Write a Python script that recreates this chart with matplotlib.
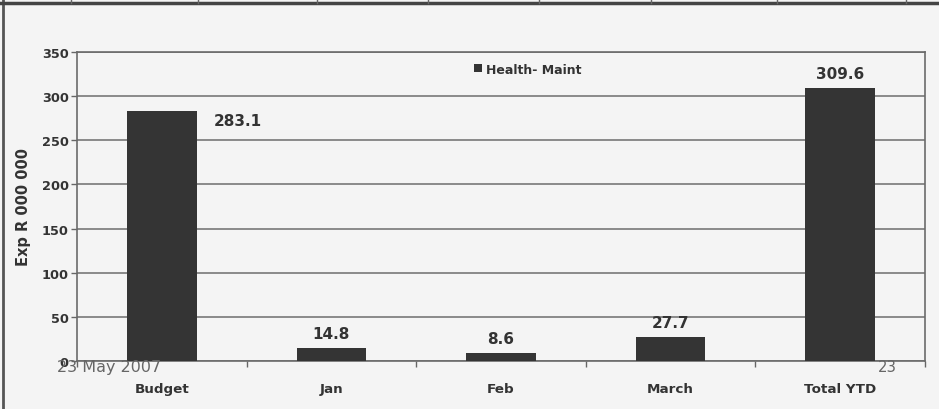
import numpy as np
import matplotlib
matplotlib.use("Agg")
import matplotlib.pyplot as plt
from matplotlib.lines import Line2D

# Chart data
categories = ["Budget", "Jan", "Feb", "March", "Total YTD"]
health_maint = [283.1, 14.8, 8.6, 27.7, 309.6]
series_name = "Health- Maint"
y_ticks = [0, 50, 100, 150, 200, 250, 300, 350]
footer_date = "23 May 2007"
footer_page = "23"

W, H = 939, 410
fig = plt.figure(figsize=(W / 100, H / 100), dpi=100, facecolor="#f4f4f4")
ax = fig.add_axes([77 / W, 1 - 362 / H, (925 - 77) / W, (362 - 53) / H])
ax.set_facecolor("#f4f4f4")

x = np.arange(len(categories))
bars = ax.bar(x, health_maint, width=0.41, color="#343434", label=series_name, zorder=3)

ax.set_xlim(-0.5, len(categories) - 0.5)
ax.set_ylim(0, 350)
ax.set_yticks(y_ticks)
ax.set_yticklabels([str(t) for t in y_ticks], fontsize=9.3, fontweight="bold", color="#333333")
ax.yaxis.grid(True, color="#8a8a8a", linewidth=1.4, zorder=0)
ax.tick_params(axis="y", length=4, width=1, color="#666666", pad=2)

# category boundaries as major ticks, names as minor ticks
ax.set_xticks(np.arange(-0.5, len(categories), 1.0))
ax.set_xticklabels([])
ax.set_xticks(x, minor=True)
ax.set_xticklabels(categories, minor=True, fontsize=9.7, fontweight="bold", color="#333333")
ax.tick_params(axis="x", which="major", length=4, width=1, color="#666666")
ax.tick_params(axis="x", which="minor", length=0, pad=15)

for s in ax.spines.values():
    s.set_color("#6a6a6a")
    s.set_linewidth(1.2)

ax.set_ylabel("Exp R 000 000", fontsize=10.5, fontweight="bold", color="#333333", labelpad=8)

# value labels
for i, (b, v) in enumerate(zip(bars, health_maint)):
    cx = b.get_x() + b.get_width() / 2
    if i == 0:
        ax.annotate(f"{v:.1f}", (cx, v), xytext=(55, -7), textcoords="offset points",
                    ha="center", va="center", fontsize=11, fontweight="bold", color="#333333")
    else:
        ax.annotate(f"{v:.1f}", (cx, v), xytext=(0, 5), textcoords="offset points",
                    ha="center", va="bottom", fontsize=11, fontweight="bold", color="#333333")

leg = ax.legend(loc="center left", bbox_to_anchor=(463 / W, 1 - 70 / H),
                bbox_transform=fig.transFigure, frameon=False,
                handlelength=0.6, handleheight=0.6, handletextpad=0.3,
                prop={"size": 9, "weight": "bold"})
for t in leg.get_texts():
    t.set_color("#333333")

# footer texts
fig.text(57 / W, 1 - 368 / H, footer_date, fontsize=11.5, color="#666666", va="center", ha="left")
fig.text(878 / W, 1 - 368 / H, footer_page, fontsize=10.7, color="#666666", va="center", ha="left")

# slide frame: left border and top table row
fig.add_artist(Line2D([3 / W, 3 / W], [0, 1], transform=fig.transFigure, color="#555555", lw=2))
fig.add_artist(Line2D([0, 1], [1 - 4 / H, 1 - 4 / H], transform=fig.transFigure, color="#444444", lw=2.5))
for px in [71, 198, 317, 428, 539, 651, 777, 906]:
    fig.add_artist(Line2D([px / W, px / W], [1 - 4 / H, 1], transform=fig.transFigure,
                          color="#666666", lw=1))

fig.savefig("out.png", dpi=100, facecolor=fig.get_facecolor())
